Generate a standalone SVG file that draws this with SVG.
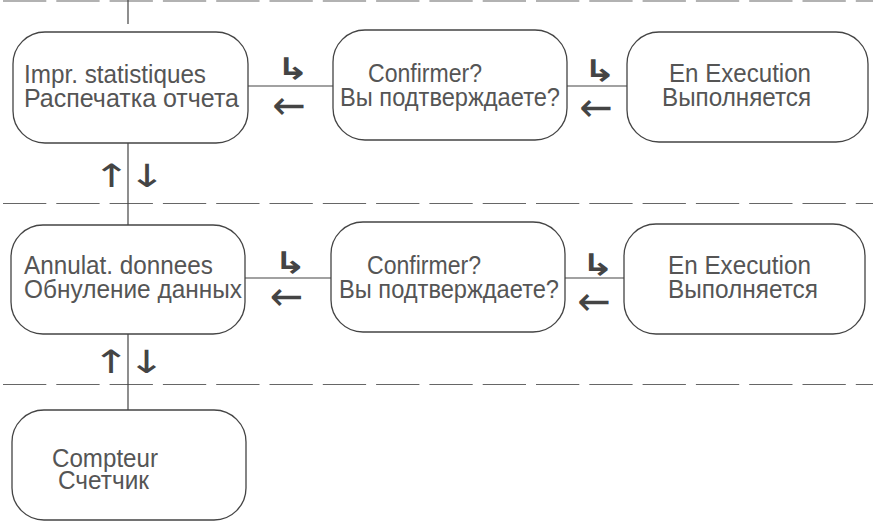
<svg xmlns="http://www.w3.org/2000/svg" width="873" height="529" viewBox="0 0 873 529">
<style>
.box{fill:#fff;stroke:#444;stroke-width:1.3}
.t{font-family:"Liberation Sans",Arial,sans-serif;font-size:25px;fill:#555}
.ar{font-family:"DejaVu Sans",sans-serif;fill:#444;text-anchor:middle}
.hk{font-size:30px;font-weight:bold}
.lf{font-size:40px}
.ud{font-size:32px}
.ln{stroke:#444;stroke-width:1.2;fill:none}
.dash{stroke:#666;stroke-width:1.2;stroke-dasharray:43.3 10;fill:none}
</style>
<rect width="873" height="529" fill="#fff"/>
<g id="separators">
<line class="dash" x1="3" y1="1" x2="873" y2="1"/>
<line class="dash" x1="3" y1="203.5" x2="873" y2="203.5"/>
<line class="dash" x1="3" y1="384.5" x2="873" y2="384.5"/>
</g>
<g id="connectors">
<line class="ln" x1="128" y1="0" x2="128" y2="24"/>
<line class="ln" x1="128" y1="143" x2="128" y2="225"/>
<line class="ln" x1="128" y1="334" x2="128" y2="410"/>
<line class="ln" x1="248" y1="86" x2="333" y2="86"/>
<line class="ln" x1="567" y1="86" x2="627" y2="86"/>
<line class="ln" x1="245" y1="278" x2="331" y2="278"/>
<line class="ln" x1="565" y1="278" x2="624" y2="278"/>
<text class="ar hk" transform="translate(292.5 79) scale(1.3 1)">↳</text>
<text class="ar lf" x="289" y="119">←</text>
<text class="ar hk" transform="translate(599.5 81) scale(1.3 1)">↳</text>
<text class="ar lf" x="596" y="120.5">←</text>
<text class="ar hk" transform="translate(290 272.5) scale(1.3 1)">↳</text>
<text class="ar lf" x="286.5" y="309.5">←</text>
<text class="ar hk" transform="translate(597.5 275) scale(1.3 1)">↳</text>
<text class="ar lf" x="594" y="314.5">←</text>
<text class="ar ud" transform="translate(111.5 187) scale(1.4 1)">↑</text>
<text class="ar ud" transform="translate(147 187) scale(1.4 1)">↓</text>
<text class="ar ud" transform="translate(111 373) scale(1.4 1)">↑</text>
<text class="ar ud" transform="translate(146.5 373) scale(1.4 1)">↓</text>
</g>
<g id="node-impr">
<rect class="box" x="13" y="32" width="235" height="111" rx="32"/>
<text class="t" x="24" y="83" textLength="182" lengthAdjust="spacingAndGlyphs">Impr. statistiques</text>
<text class="t" x="24" y="106.5" textLength="215" lengthAdjust="spacingAndGlyphs">Распечатка отчета</text>
</g>
<g id="node-confirm1">
<rect class="box" x="333" y="30" width="234" height="110" rx="32"/>
<text class="t" x="368" y="82" textLength="114" lengthAdjust="spacingAndGlyphs">Confirmer?</text>
<text class="t" x="340" y="105.5" textLength="220" lengthAdjust="spacingAndGlyphs">Вы подтверждаете?</text>
</g>
<g id="node-exec1">
<rect class="box" x="627" y="32" width="241" height="110" rx="32"/>
<text class="t" x="669" y="82" textLength="142" lengthAdjust="spacingAndGlyphs">En Execution</text>
<text class="t" x="662" y="106" textLength="149" lengthAdjust="spacingAndGlyphs">Выполняется</text>
</g>
<g id="node-annul">
<rect class="box" x="11" y="225" width="234" height="109" rx="32"/>
<text class="t" x="24" y="274" textLength="189" lengthAdjust="spacingAndGlyphs">Annulat. donnees</text>
<text class="t" x="24" y="298" textLength="218" lengthAdjust="spacingAndGlyphs">Обнуление данных</text>
</g>
<g id="node-confirm2">
<rect class="box" x="331" y="222" width="234" height="110" rx="32"/>
<text class="t" x="367" y="274" textLength="114" lengthAdjust="spacingAndGlyphs">Confirmer?</text>
<text class="t" x="339" y="298" textLength="220" lengthAdjust="spacingAndGlyphs">Вы подтверждаете?</text>
</g>
<g id="node-exec2">
<rect class="box" x="624" y="224" width="241" height="110" rx="32"/>
<text class="t" x="668" y="274" textLength="143" lengthAdjust="spacingAndGlyphs">En Execution</text>
<text class="t" x="668" y="298" textLength="150" lengthAdjust="spacingAndGlyphs">Выполняется</text>
</g>
<g id="node-compteur">
<rect class="box" x="12" y="410" width="234" height="110" rx="32"/>
<text class="t" x="52" y="467" textLength="106" lengthAdjust="spacingAndGlyphs">Compteur</text>
<text class="t" x="58" y="489" textLength="91" lengthAdjust="spacingAndGlyphs">Счетчик</text>
</g>
</svg>
